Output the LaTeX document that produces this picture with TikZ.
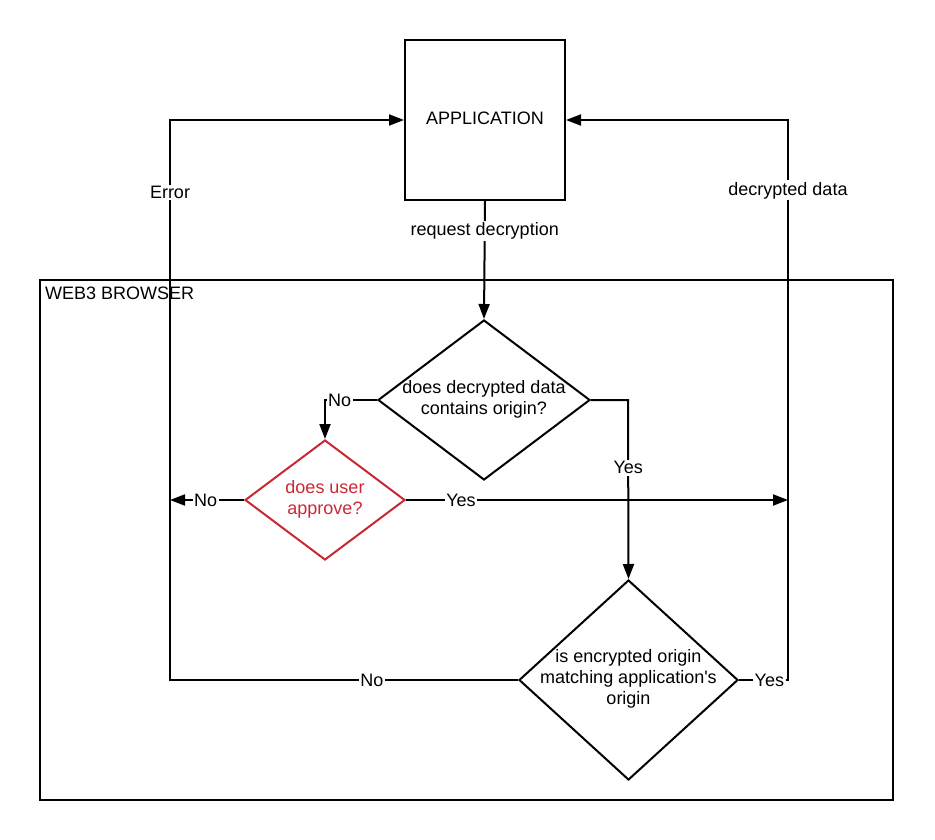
\documentclass[tikz,border=0pt]{standalone}
\usepackage{fontspec}
\setmainfont{Liberation Sans}
\usetikzlibrary{shapes.geometric,arrows.meta}
\definecolor{dred}{RGB}{204,40,52}
\begin{document}
\begin{tikzpicture}[x=1pt,y=-1pt,
  every node/.style={font=\fontsize{18}{21}\selectfont},
  line/.style={line width=2pt,draw=black},
  arr/.style={line width=2pt,draw=black,-{Triangle[length=15pt,width=11pt]}},
  box/.style={draw,line width=2pt,minimum width=160pt,minimum height=160pt,inner sep=0},
  dia/.style={draw,line width=2pt,diamond,inner sep=0},
  dtext/.style={align=center,inner sep=0},
  lbl/.style={fill=white,inner sep=1.5pt,yshift=-1.5pt}]
\useasboundingbox (0,0) rectangle (935,840);
% frame
\node[draw,line width=2pt,minimum width=853pt,minimum height=520pt,inner sep=0] (frame) at (466.5,540) {};
\node[anchor=base west,inner sep=0] (frametitle) at (45,299) {WEB3 BROWSER};
% application
\node[box] (app) at (485,120) {};
\node[inner sep=0] (apptext) at (485,118) {APPLICATION};
% diamonds
\node[dia,minimum width=212pt,minimum height=160pt] (d1) at (484,400) {};
\node[dtext] (t1) at (484,399.5) {does decrypted data\\contains origin?};
\node[dia,draw=dred,minimum width=160pt,minimum height=120pt] (d2) at (325,500) {};
\node[dtext,text=dred] (t2) at (325,499) {does user\\approve?};
\node[dia,minimum width=219pt,minimum height=200pt] (d3) at (628.5,680) {};
\node[dtext] (t3) at (628.5,679) {is encrypted origin\\matching application\textquotesingle s\\origin};
% helper coordinates
\coordinate (c1) at (325,400);
\coordinate (c2) at (628,400);
\coordinate (c3) at (170,500);
\coordinate (c4) at (788,500);
\coordinate (c5) at (170,680);
\coordinate (c6) at (170,120);
\coordinate (c7) at (788,680);
\coordinate (c8) at (788,120);
% connectors
\draw[arr] (app.south) -- node[lbl,pos=0.24] (l1) {request decryption} (d1.north);
\draw[arr] (d1.west) -- node[lbl,pos=0.72,yshift=1.5pt] (l2) {No} (c1) -- (d2.north);
\draw[arr] (d1.east) -- (c2) -- node[lbl,pos=0.37] (l3) {Yes} (d3.north);
\draw[arr] (d2.west) -- node[lbl,pos=0.52,yshift=1.5pt] (l4) {No} (c3);
\draw[arr] (d2.east) -- node[lbl,pos=0.144,yshift=1.5pt] (l5) {Yes} (c4);
\draw[arr] (d3.west) -- node[lbl,pos=0.42,yshift=1.5pt] (l6) {No} (c5) -- node[lbl,pos=0.873] (l7) {Error} (c6) -- (app.west);
\draw[arr] (d3.east) -- node[lbl,pos=0.62,yshift=1.5pt] (l8) {Yes} (c7) -- node[lbl,pos=0.877] (l9) {decrypted data} (c8) -- (app.east);
\end{tikzpicture}
\end{document}
